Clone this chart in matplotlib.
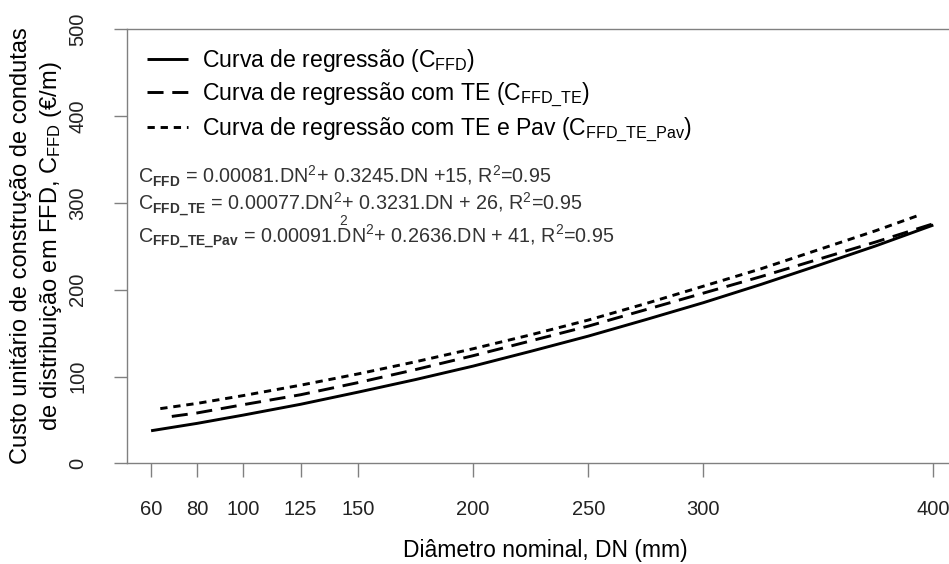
import matplotlib
matplotlib.use("Agg")
import matplotlib.pyplot as plt
from matplotlib import font_manager as fm

# ---------------- data ----------------
dn_ffd = [60, 80, 100, 125, 150, 175, 200, 225, 250, 275, 300, 325, 350, 375, 400]
c_ffd = [37.5, 46, 55.5, 68, 82, 96.5, 112, 129, 146.5, 165.5, 185, 206, 228, 250.5, 274.5]

dn_te = [69, 80, 100, 125, 150, 175, 200, 225, 250, 275, 300, 325, 350, 375, 400]
c_te = [54, 58, 67.5, 79, 93, 108, 124, 141, 158, 177, 196, 215, 235, 255, 276]

dn_pav = [64, 80, 100, 125, 150, 175, 200, 225, 250, 275, 300, 325, 350, 375, 395]
c_pav = [63, 69, 78, 90, 103, 117, 132, 148, 165, 184, 204, 224, 246, 268, 287]

x_ticks = [60, 80, 100, 125, 150, 200, 250, 300, 400]
y_ticks = [0, 100, 200, 300, 400, 500]

labels = [r'Curva de regressão (C$_{\mathrm{FFD}}$)',
          r'Curva de regressão com TE (C$_{\mathrm{FFD\_TE}}$)',
          r'Curva de regressão com TE e Pav (C$_{\mathrm{FFD\_TE\_Pav}}$)']

equations = [r'C$_{\mathbf{FFD}}$ = 0.00081.DN$^{2}$+ 0.3245.DN +15, R$^{2}$=0.95',
             r'C$_{\mathbf{FFD\_TE}}$ = 0.00077.DN$^{2}$+ 0.3231.DN + 26, R$^{2}$=0.95',
             r'C$_{\mathbf{FFD\_TE\_Pav}}$ = 0.00091.$\overset{2}{\mathrm{D}}$N$^{2}$+ 0.2636.DN + 41, R$^{2}$=0.95']

# ---------------- fonts ----------------
def has_font(name):
    try:
        fm.findfont(fm.FontProperties(family=name), fallback_to_default=False)
        return True
    except Exception:
        return False

MAIN = 'Liberation Sans' if has_font('Liberation Sans') else 'DejaVu Sans'
NARROW = 'Liberation Sans Narrow' if has_font('Liberation Sans Narrow') else MAIN
narrow_ok = NARROW != MAIN

plt.rcParams['font.family'] = [MAIN, 'DejaVu Sans']
plt.rcParams['mathtext.fontset'] = 'custom'
plt.rcParams['mathtext.rm'] = MAIN
plt.rcParams['mathtext.it'] = MAIN + ':italic'
plt.rcParams['mathtext.bf'] = MAIN + ':bold'

W, H = 949, 564
fig = plt.figure(figsize=(W / 100, H / 100), dpi=100)

x_left, x_right = 126.7, 966.0
y_top, y_bot = 29.3, 463.3
ax = fig.add_axes([x_left / W, 1 - y_bot / H, (x_right - x_left) / W, (y_bot - y_top) / H])

ax.plot(dn_ffd, c_ffd, color='black', lw=2.1, solid_capstyle='butt', label=labels[0])
ax.plot(dn_te, c_te, color='black', lw=2.1, dashes=(5.5, 3.0), dash_capstyle='butt', label=labels[1])
ax.plot(dn_pav, c_pav, color='black', lw=2.1, dashes=(2.5, 2.0), dash_capstyle='butt', label=labels[2])

ax.set_xlim(49.4, 414.2)
ax.set_ylim(0, 500)

gray = '#808080'
for side in ['left', 'top', 'bottom']:
    ax.spines[side].set_color(gray)
    ax.spines[side].set_linewidth(1.0)
ax.spines['right'].set_visible(False)

tick_size = 17 if narrow_ok else 14.5
ax.set_xticks(x_ticks)
ax.set_xticklabels([str(v) for v in x_ticks], family=[NARROW, 'DejaVu Sans'], fontsize=tick_size, color='#222222')
ax.set_yticks(y_ticks)
ax.set_yticklabels([str(v) for v in y_ticks], family=[NARROW, 'DejaVu Sans'], fontsize=tick_size, color='#222222',
                   rotation=90, va='center', ha='right')
ax.tick_params(axis='x', length=10, width=1.0, color=gray, pad=16.5)
ax.tick_params(axis='y', length=9.4, width=1.0, color=gray, pad=19)

# legend
ax.legend(loc='upper left', bbox_to_anchor=(147 / W, 1 - 47 / H), bbox_transform=fig.transFigure,
          frameon=False, fontsize=16.6, handlelength=1.78, handletextpad=0.62, labelspacing=0.27,
          borderpad=0, borderaxespad=0)

# equations
eq_size = 17 if narrow_ok else 14.2
for i, (eq, yc) in enumerate(zip(equations, [176, 204, 232])):
    fig.text(138 / W, 1 - yc / H, eq, fontsize=eq_size, family=[NARROW, 'DejaVu Sans'], color='#333333',
             ha='left', va='center')

# axis labels
fig.text(545 / W, 1 - 557.5 / H, 'Diâmetro nominal, DN (mm)', fontsize=16.5, ha='center', va='baseline')
fig.text(21 / W, 1 - 246 / H, 'Custo unitário de construção de condutas', fontsize=17,
         rotation=90, ha='center', va='center')
fig.text(51 / W, 1 - 246 / H, r'de distribuição em FFD, C$_{\mathrm{FFD}}$ (€/m)', fontsize=17,
         rotation=90, ha='center', va='center')

fig.savefig('out.png', dpi=100)
